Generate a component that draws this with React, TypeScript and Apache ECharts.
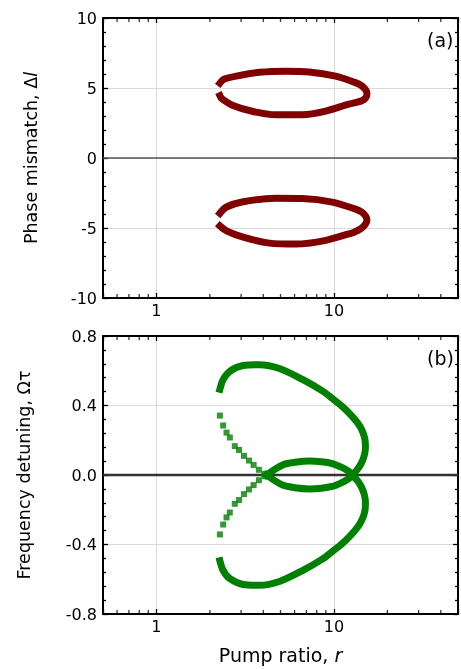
import React, { useEffect, useRef } from 'react';
import * as echarts from 'echarts';

// ---- axes ----
const X_MIN = 0.5;
const X_MAX = 50;
const X_TICK_LABELS = ['1', '10'];
const X_MINOR_TICKS = [0.6, 0.7, 0.8, 0.9, 2, 3, 4, 5, 6, 7, 8, 9, 20, 30, 40];

const A_Y_MIN = -10;
const A_Y_MAX = 10;
const A_Y_INTERVAL = 5;
const A_Y_TICK_LABELS = ['-10', '-5', '0', '5', '10'];

const B_Y_MIN = -0.8;
const B_Y_MAX = 0.8;
const B_Y_INTERVAL = 0.4;
const B_Y_TICK_LABELS = ['-0.8', '-0.4', '0.0', '0.4', '0.8'];

const ZERO = 0;

// ---- panel (a): phase mismatch loops ----
const A_UPPER_LOOP: [number, number][] = [
  [2.278, 5.35], [2.4, 5.62], [2.82, 5.85], [3.81, 6.12], [5.37, 6.2], [7.25, 6.15],
  [10.22, 5.85], [13.0, 5.42], [14.2, 5.2], [15.0, 4.92], [15.35, 4.62], [15.2, 4.35],
  [14.5, 4.12], [13.2, 3.95], [12.13, 3.85], [8.99, 3.35], [6.65, 3.09], [4.72, 3.09],
  [3.5, 3.32], [2.7, 3.75], [2.33, 4.25], [2.278, 4.45],
];
const A_LOWER_LOOP: [number, number][] = [
  [2.278, -3.95], [2.48, -3.5], [3.08, -3.12], [4.72, -2.88], [6.65, -2.9], [9.78, -3.15],
  [13.0, -3.62], [14.3, -3.85], [15.1, -4.15], [15.35, -4.45], [15.0, -4.75], [14.2, -5.05],
  [12.9, -5.32], [12.13, -5.42], [8.99, -5.88], [6.11, -6.15], [4.33, -6.08], [3.08, -5.65],
  [2.48, -5.2], [2.278, -4.85],
];

// ---- panel (b): frequency detuning ----
const B_UPPER_SPARSE: [number, number][] = [
  [2.278, 0.342], [2.377, 0.285], [2.483, 0.244], [2.591, 0.216], [2.763, 0.166], [2.92, 0.144],
  [3.114, 0.11], [3.321, 0.083], [3.528, 0.058], [3.777, 0.03], [4.065, 0.007],
];
const B_UPPER_DENSE: [number, number][] = [
  [4.17, 0.0], [5.14, -0.058], [6.2, -0.075], [7.25, -0.08], [8.5, -0.076], [9.78, -0.066],
  [11.0, -0.045], [12.13, -0.021], [12.65, 0.0], [13.5, 0.03], [14.3, 0.07], [14.85, 0.115],
  [15.05, 0.16], [14.95, 0.205], [14.5, 0.25], [13.8, 0.29], [12.6, 0.34], [11.13, 0.395],
  [9.8, 0.44], [8.6, 0.484], [6.65, 0.55], [4.93, 0.613], [3.81, 0.635], [3.075, 0.63],
  [2.59, 0.597], [2.377, 0.55], [2.278, 0.494],
];
const B_LOWER_SPARSE: [number, number][] = [
  [2.278, -0.342], [2.377, -0.285], [2.483, -0.244], [2.591, -0.216], [2.763, -0.166], [2.92, -0.144],
  [3.114, -0.11], [3.321, -0.083], [3.528, -0.058], [3.777, -0.03], [4.065, -0.007],
];
const B_LOWER_DENSE: [number, number][] = [
  [4.17, 0.0], [5.14, 0.058], [6.2, 0.075], [7.25, 0.08], [8.5, 0.076], [9.78, 0.066],
  [11.0, 0.045], [12.13, 0.021], [12.65, 0.0], [13.5, -0.03], [14.3, -0.07], [14.85, -0.115],
  [15.05, -0.16], [14.95, -0.205], [14.5, -0.25], [13.8, -0.29], [12.6, -0.34], [11.13, -0.395],
  [9.8, -0.44], [8.6, -0.484], [6.65, -0.55], [4.93, -0.613], [3.81, -0.635], [3.075, -0.63],
  [2.59, -0.597], [2.377, -0.55], [2.278, -0.494],
];

const RED = '#800000';
const GREEN = '#008000';
const FONT = 'DejaVu Sans';

type Panel = {
  yMin: number;
  yMax: number;
  yInterval: number;
  yLabels: string[];
  yName: string;
  yNameGap: number;
  xName: string;
  top: number;
  panelLabel: string;
  zeroColor: string;
  zeroWidth: number;
  lines: { data: [number, number][]; color: string }[];
  dots: { data: [number, number][]; color: string }[];
};

function buildOption(p: Panel) {
  const FRAME = { show: true, onZero: false, lineStyle: { color: '#000', width: 2 } };
  const TICK = { show: true, inside: true, length: 5, lineStyle: { color: '#000', width: 1.3 } };
  const xc = { type: 'log', logBase: 10, min: X_MIN, max: X_MAX, gridIndex: 0, axisLine: FRAME, axisTick: TICK };
  const yc: any = { type: 'value', gridIndex: 0, min: p.yMin, max: p.yMax, interval: p.yInterval, axisLine: FRAME, axisTick: TICK };
  yc.minorTick = { show: true, splitNumber: 5, length: 3, lineStyle: { color: '#000', width: 1.3 } };

  const xNameOpt = p.xName
    ? {
        name: p.xName,
        nameLocation: 'middle',
        nameGap: 31,
        nameTextStyle: {
          fontSize: 19,
          fontFamily: FONT,
          color: '#000',
          rich: {
            n: { fontSize: 19, fontFamily: FONT, color: '#000' },
            i: { fontSize: 19, fontFamily: FONT, color: '#000', fontStyle: 'italic' },
          },
        },
      }
    : {};

  const series: any[] = [
    {
      type: 'line',
      data: [[X_MIN, ZERO], [X_MAX, ZERO]],
      showSymbol: false,
      symbol: 'none',
      silent: true,
      z: 1,
      lineStyle: { color: p.zeroColor, width: p.zeroWidth },
    },
    ...p.lines.map((l) => ({
      type: 'line',
      data: l.data,
      showSymbol: false,
      symbol: 'none',
      smooth: 0.3,
      z: 3,
      lineStyle: { color: l.color, width: 7, cap: 'square', join: 'round' },
    })),
    ...p.dots.map((d) => ({
      type: 'scatter',
      data: d.data,
      symbol: 'rect',
      symbolSize: 6,
      z: 3,
      itemStyle: { color: d.color },
    })),
    {
      type: 'scatter',
      silent: true,
      clip: false,
      z: 6,
      data: X_MINOR_TICKS.map((v) => [v, p.yMin]),
      symbol: 'rect',
      symbolSize: [1.3, 3],
      symbolOffset: [0, -2.5],
      itemStyle: { color: '#000' },
    },
    {
      type: 'scatter',
      silent: true,
      clip: false,
      z: 6,
      data: X_MINOR_TICKS.map((v) => [v, p.yMax]),
      symbol: 'rect',
      symbolSize: [1.3, 3],
      symbolOffset: [0, 2.5],
      itemStyle: { color: '#000' },
    },
  ];

  return {
    animation: false,
    grid: [{ left: 103, right: 2, top: p.top, height: 282 }],
    xAxis: [
      {
        ...xc,
        position: 'bottom',
        axisLabel: {
          fontSize: 16,
          fontFamily: FONT,
          color: '#000',
          margin: 4,
          formatter: (v: number) => {
            const s = String(Math.round(v * 1000) / 1000);
            return X_TICK_LABELS.includes(s) ? s : '';
          },
        },
        splitLine: { show: true, lineStyle: { color: '#d9d9d9' } },
        ...xNameOpt,
      },
      { ...xc, position: 'top', axisLabel: { show: false }, splitLine: { show: false } },
    ],
    yAxis: [
      {
        ...yc,
        position: 'left',
        axisLabel: {
          fontSize: 16,
          fontFamily: FONT,
          color: '#000',
          margin: 6,
          formatter: (v: number) => p.yLabels[Math.round((v - p.yMin) / p.yInterval)] ?? '',
        },
        splitLine: { show: true, lineStyle: { color: '#d9d9d9' } },
        name: p.yName,
        nameLocation: 'middle',
        nameGap: p.yNameGap,
        nameTextStyle: {
          fontSize: 17.5,
          fontFamily: FONT,
          color: '#000',
          rich: {
            n: { fontSize: 17.5, fontFamily: FONT, color: '#000' },
            i: { fontSize: 17.5, fontFamily: FONT, color: '#000', fontStyle: 'italic' },
          },
        },
      },
      { ...yc, position: 'right', axisLabel: { show: false }, splitLine: { show: false } },
    ],
    series,
    graphic: [
      { type: 'text', left: 427, top: p.top + 12, style: { text: p.panelLabel, fontSize: 19, fontFamily: FONT, fill: '#000' } },
    ],
  };
}

const PANEL_A: Panel = {
  yMin: A_Y_MIN,
  yMax: A_Y_MAX,
  yInterval: A_Y_INTERVAL,
  yLabels: A_Y_TICK_LABELS,
  yName: '{n|Phase mismatch, Δ}{i|l}',
  yNameGap: 63,
  xName: '',
  top: 18,
  panelLabel: '(a)',
  zeroColor: '#555',
  zeroWidth: 1.6,
  lines: [
    { data: A_UPPER_LOOP, color: RED },
    { data: A_LOWER_LOOP, color: RED },
  ],
  dots: [],
};

const PANEL_B: Panel = {
  yMin: B_Y_MIN,
  yMax: B_Y_MAX,
  yInterval: B_Y_INTERVAL,
  yLabels: B_Y_TICK_LABELS,
  yName: '{n|Frequency detuning, Ωτ}',
  yNameGap: 70,
  xName: '{n|Pump ratio, }{i|r}',
  top: 18,
  panelLabel: '(b)',
  zeroColor: '#333',
  zeroWidth: 2.4,
  lines: [
    { data: B_UPPER_DENSE, color: GREEN },
    { data: B_LOWER_DENSE, color: GREEN },
  ],
  dots: [
    { data: B_UPPER_SPARSE, color: GREEN },
    { data: B_LOWER_SPARSE, color: GREEN },
  ],
};

function ChartPanel({ panel, top, height }: { panel: Panel; top: number; height: number }) {
  const ref = useRef<HTMLDivElement>(null);
  useEffect(() => {
    if (!ref.current) return;
    const chart = echarts.init(ref.current, undefined, { renderer: 'svg' });
    chart.setOption(buildOption(panel) as any);
    return () => chart.dispose();
  }, []);
  return <div ref={ref} style={{ position: 'fixed', left: 0, top, width: 461, height }} />;
}

export default function App() {
  return (
    <div>
      <ChartPanel panel={PANEL_A} top={0} height={318} />
      <ChartPanel panel={PANEL_B} top={318} height={351} />
    </div>
  );
}
